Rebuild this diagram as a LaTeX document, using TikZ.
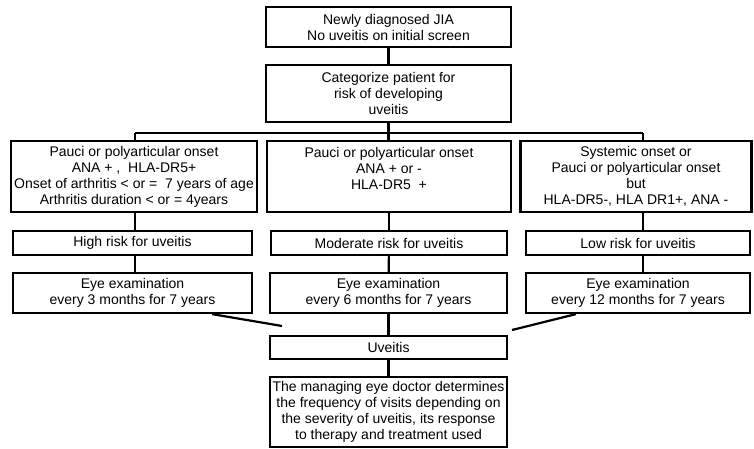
\documentclass[tikz,border=0pt]{standalone}
\usepackage{fontspec}
\setmainfont{Liberation Sans}
\usetikzlibrary{positioning,calc}

\begin{document}
\begin{tikzpicture}[
    x=1pt, y=-1pt,
    every node/.style={font=\fontsize{14}{16}\selectfont},
    box/.style={rectangle, draw=black, line width=2.2pt, align=center, inner sep=0pt, minimum width=#1},
    link/.style={line width=2.2pt, black},
]
\useasboundingbox (0,0) rectangle (754,449);

% Top of the chart
\node[box=245pt, minimum height=40pt] (newjia) at (388.5,27) {Newly diagnosed JIA\\No uveitis on initial screen};
\node[box=245pt, minimum height=57pt] (categ) at (388.5,93.5) {Categorize patient for\\risk of developing\\uveitis};

% Onset groups
\node[box=246pt, minimum height=71pt] (onsetl) at (134,176.5) {Pauci or polyarticular onset\\ANA + ,~ HLA-DR5+\\Onset of arthritis < or =~ 7 years of age\\Arthritis duration < or = 4years};
\node[box=244pt, minimum height=71pt] (onsetm) at (389,176.5) {Pauci or polyarticular onset\\ANA + or -\\HLA-DR5~ +\\~};
\node[box=231pt, minimum height=71pt] (onsetr) at (636,176.5) {Systemic onset or\\Pauci or polyarticular onset\\but\\HLA-DR5-, HLA DR1+, ANA -};

% Risk levels
\node[box=239pt, minimum height=24pt] (riskl) at (132.5,243) {High risk for uveitis};
\node[box=236pt, minimum height=24pt] (riskm) at (389,243) {Moderate risk for uveitis};
\node[box=224pt, minimum height=24pt] (riskr) at (638,243) {Low risk for uveitis};

% Eye examinations
\node[box=239pt, minimum height=40pt] (eyel) at (132.5,293) {Eye examination\\every 3 months for 7 years};
\node[box=237pt, minimum height=40pt] (eyem) at (388.5,293) {Eye examination\\every 6 months for 7 years};
\node[box=224pt, minimum height=40pt] (eyer) at (638,293) {Eye examination\\every 12 months for 7 years};

% Uveitis and follow-up
\node[box=237pt, minimum height=23pt] (uveitis) at (388.5,347.5) {Uveitis};
\node[box=237pt, minimum height=70pt] (manage) at (388.5,412) {The managing eye doctor determines\\the frequency of visits depending on\\the severity of uveitis, its response\\to therapy and treatment used};

% Connectors
\coordinate (busl) at (135,133);
\coordinate (busr) at (643,133);
\coordinate (diagl) at (282,326);
\coordinate (diagr) at (512,330);

\draw[link] (newjia) -- (categ);
\draw[link] (categ.south) -- (categ.south |- busl);
\draw[link] (busl) -- (busr);
\draw[link] (busl) -- (busl |- onsetl.north);
\draw[link] (categ.south |- busl) -- (categ.south |- onsetm.north);
\draw[link] (busr) -- (busr |- onsetr.north);

\draw[link] (onsetl.south -| busl) -- (riskl.north -| busl);
\draw[link] (onsetm) -- (riskm);
\draw[link] (onsetr.south -| busr) -- (riskr.north -| busr);
\draw[link] (riskl.south -| busl) -- (eyel.north -| busl);
\draw[link] (riskm) -- (eyem);
\draw[link] (riskr.south -| busr) -- (eyer.north -| busr);

\draw[link] (eyem) -- (uveitis);
\draw[link] (uveitis) -- (manage);
\draw[link] ([xshift=-41pt]eyel.south east) -- (diagl);
\draw[link] ([xshift=51pt]eyer.south west) -- (diagr);

\end{tikzpicture}
\end{document}
